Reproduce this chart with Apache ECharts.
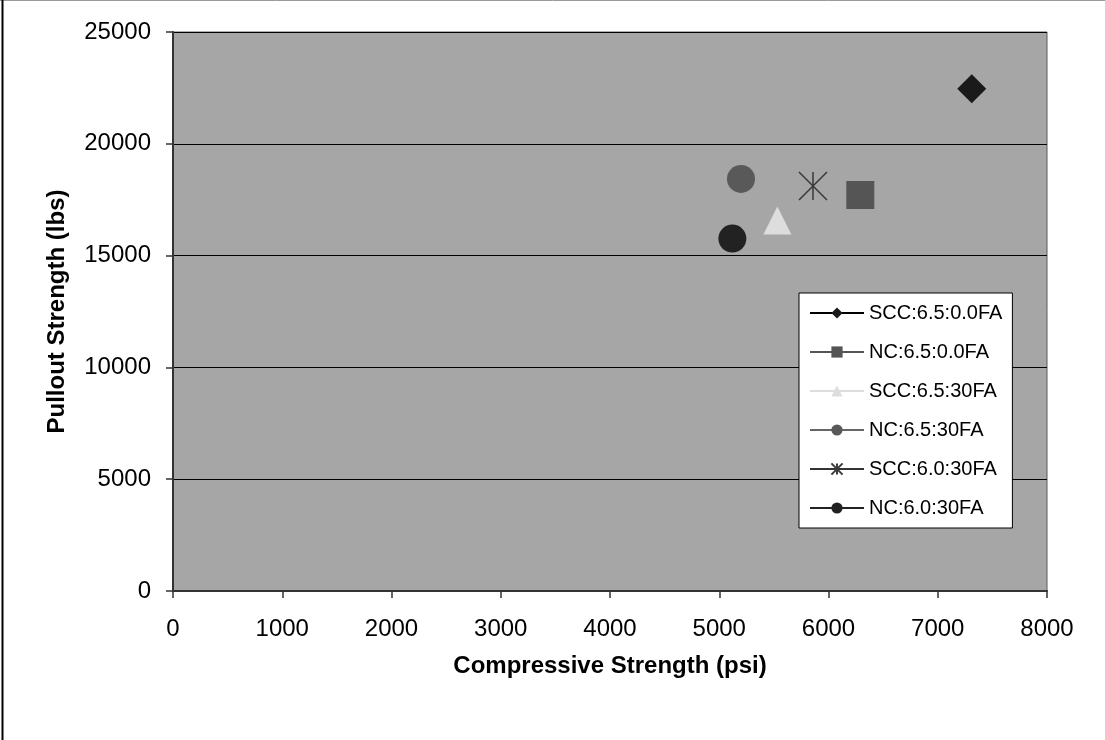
<!DOCTYPE html>
<html>
<head>
<meta charset="utf-8">
<script src="https://cdn.jsdelivr.net/npm/echarts@6/dist/echarts.min.js"></script>
<style>
html,body{margin:0;padding:0;background:#fff;}
#chart{width:1105px;height:740px;}
</style>
</head>
<body>
<div id="chart"></div>
<script>
// ---- data ----
const seriesNames = ['SCC:6.5:0.0FA','NC:6.5:0.0FA','SCC:6.5:30FA','NC:6.5:30FA','SCC:6.0:30FA','NC:6.0:30FA'];
const compressive = [7311, 6291, 5532, 5199, 5858, 5120];   // psi
const pullout     = [22460, 17710, 16570, 18430, 18110, 15760]; // lbs
const xTicks = [0,1000,2000,3000,4000,5000,6000,7000,8000];
const yTicks = [0,5000,10000,15000,20000,25000];

// ---- styles ----
const asterisk = 'path://M10,0L10,20M0,0L20,20M0,20L20,0';
const styles = [
  {symbol:'diamond', size:29, color:'#1a1a1a', line:'#000000'},
  {symbol:'rect', size:28, color:'#555555', line:'#555555'},
  {symbol:'triangle', size:28, color:'#dddddd', line:'#dddddd'},
  {symbol:'circle', size:28, color:'#595959', line:'#666666'},
  {symbol:asterisk, size:28, color:'none', border:'#3a3a3a', line:'#333333'},
  {symbol:'circle', size:28, color:'#222222', line:'#222222'}
];

const series = seriesNames.map((n,i)=>{
  const st = styles[i];
  return {
    name:n, type:'line',
    data:[[compressive[i], pullout[i]]],
    symbol:st.symbol, symbolSize:st.size, showSymbol:true,
    itemStyle: st.border ? {color:'rgba(0,0,0,0)', borderColor:st.border, borderWidth:1.5} : {color:st.color, borderWidth:0},
    lineStyle:{color:st.line, width:2},
    color: st.border ? st.border : st.color,
    emphasis:{disabled:true},
    animation:false
  };
});

const chart = echarts.init(document.getElementById('chart'), null, {renderer:'canvas'});
chart.setOption({
  animation:false,
  backgroundColor:'#ffffff',
  textStyle:{fontFamily:'Liberation Sans, Arial, sans-serif'},
  grid:{left:173, right:58, top:32, bottom:149, show:true, backgroundColor:'#a6a6a6', borderColor:'#5a5a5a', borderWidth:1},
  xAxis:{
    type:'value', min:xTicks[0], max:xTicks[xTicks.length-1], interval:1000,
    name:'Compressive Strength (psi)', nameLocation:'middle', nameGap:63,
    nameTextStyle:{fontSize:24, fontWeight:'bold', color:'#000'},
    axisLine:{show:true, onZero:false, lineStyle:{color:'#333', width:2}},
    axisTick:{show:true, length:7, lineStyle:{color:'#333', width:1.5}},
    axisLabel:{fontSize:24, color:'#000', margin:26, formatter:v=>String(v)},
    splitLine:{show:false}
  },
  yAxis:{
    type:'value', min:yTicks[0], max:yTicks[yTicks.length-1], interval:5000,
    name:'Pullout Strength (lbs)', nameLocation:'middle', nameGap:104,
    nameTextStyle:{fontSize:24, fontWeight:'bold', color:'#000'},
    axisLine:{show:true, onZero:false, lineStyle:{color:'#333', width:2}},
    axisTick:{show:true, length:7, lineStyle:{color:'#333', width:1.5}},
    axisLabel:{fontSize:24, color:'#000', margin:22, formatter:v=>String(v)},
    splitLine:{show:true, lineStyle:{color:'#000', width:1}}
  },
  legend:{
    orient:'vertical', left:799, top:293,
    padding:[10,10,10,10],
    backgroundColor:'#ffffff', borderColor:'#000', borderWidth:1,
    itemWidth:54, itemHeight:14, itemGap:19,
    textStyle:{fontSize:20, color:'#000', lineHeight:20},
    data:seriesNames
  },
  graphic:[
    {type:'line', shape:{x1:0,y1:0.5,x2:1105,y2:0.5}, style:{stroke:'#9a9a9a', lineWidth:1}},
    {type:'line', shape:{x1:2.5,y1:0,x2:2.5,y2:740}, style:{stroke:'#000', lineWidth:2}}
  ],
  series:series
});
</script>
</body>
</html>
